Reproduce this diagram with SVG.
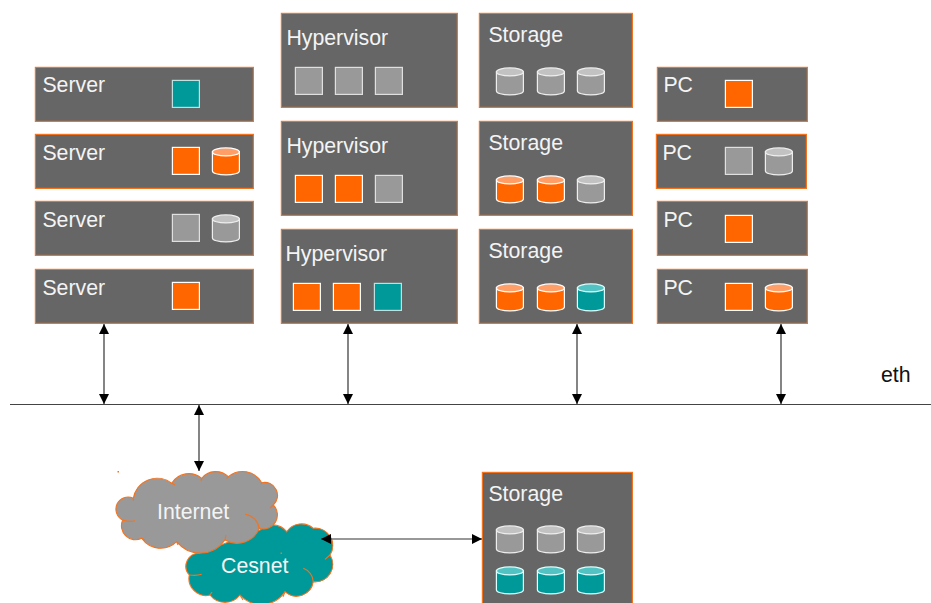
<svg xmlns="http://www.w3.org/2000/svg" width="931" height="603" viewBox="0 0 931 603">
<style>
.box{fill:#666;stroke:#f4731f;stroke-width:1.2}
text{font-family:"Liberation Sans",Arial,sans-serif;font-size:21.3px;fill:#f4f4f4}
.sq{stroke-width:1.2}
.g{fill:#999;stroke:#e0e0e0}.o{fill:#f60;stroke:#fff}.t{fill:#099;stroke:#bfe0e0}
.cg{stroke-width:1.2;fill:#999;stroke:#eee}.co{stroke-width:1.2;fill:#f60;stroke:#fff}.ct{stroke-width:1.2;fill:#099;stroke:#dff}
.tg{fill:#c2c2c2}.to{fill:#ff9e66}.tt{fill:#52c2c2}
.cn{stroke:#333;stroke-width:1.2;fill:none;marker-start:url(#a);marker-end:url(#a)}
.cloud{stroke:#f4731f;stroke-width:1.1}
.in{fill:none;stroke:#f4731f;stroke-width:1.1}
</style>
<defs>
<marker id="a" viewBox="0 0 10 10" refX="10" refY="5" markerWidth="10" markerHeight="10" markerUnits="userSpaceOnUse" orient="auto-start-reverse"><path d="M0 0L10 5L0 10Z" fill="#000"/></marker>
<g id="cylg"><path class="cg" d="M0 4.500V23.500A13.500 4 0 0 0 27 23.500V4.500Z"/><ellipse class="cg tg" cx="13.500" cy="4.500" rx="13.500" ry="4"/></g>
<g id="cylo"><path class="co" d="M0 4.500V23.500A13.500 4 0 0 0 27 23.500V4.500Z"/><ellipse class="co to" cx="13.500" cy="4.500" rx="13.500" ry="4"/></g>
<g id="cylt"><path class="ct" d="M0 4.500V23.500A13.500 4 0 0 0 27 23.500V4.500Z"/><ellipse class="ct tt" cx="13.500" cy="4.500" rx="13.500" ry="4"/></g>
<rect id="sqg" class="sq g" width="27" height="27"/>
<rect id="sqo" class="sq o" width="27" height="27"/>
<rect id="sqt" class="sq t" width="27" height="27"/>
</defs>
<rect width="931" height="603" fill="#fff"/>
<g transform="translate(.4 .4)">
<g id="server1"><rect class="box" x="35" y="67" width="218" height="54"/><text x="42" y="92">Server</text><use href="#sqt" x="172" y="80"/></g>
<g id="server2"><rect class="box" x="35" y="134" width="218" height="54"/><text x="42" y="160">Server</text><use href="#sqo" x="172" y="147"/><use href="#cylo" x="212" y="147"/></g>
<g id="server3"><rect class="box" x="35" y="201" width="218" height="54"/><text x="42" y="227">Server</text><use href="#sqg" x="172" y="214"/><use href="#cylg" x="212" y="214"/></g>
<g id="server4"><rect class="box" x="35" y="269" width="218" height="54"/><text x="42" y="295">Server</text><use href="#sqo" x="172" y="282"/></g>

<g id="hypervisor1"><rect class="box" x="281" y="13" width="176" height="94"/><text x="286" y="45">Hypervisor</text><use href="#sqg" x="295" y="67"/><use href="#sqg" x="335" y="67"/><use href="#sqg" x="375" y="67"/></g>
<g id="hypervisor2"><rect class="box" x="281" y="121" width="176" height="94"/><text x="286" y="153">Hypervisor</text><use href="#sqo" x="295" y="175"/><use href="#sqo" x="335" y="175"/><use href="#sqg" x="375" y="175"/></g>
<g id="hypervisor3"><rect class="box" x="281" y="229" width="176" height="94"/><text x="285" y="261">Hypervisor</text><use href="#sqo" x="293" y="283"/><use href="#sqo" x="333" y="283"/><use href="#sqt" x="374" y="283"/></g>

<g id="storage1"><rect class="box" x="479" y="13" width="153" height="94"/><text x="488" y="42">Storage</text><use href="#cylg" x="496" y="67"/><use href="#cylg" x="537" y="67"/><use href="#cylg" x="577" y="67"/></g>
<g id="storage2"><rect class="box" x="479" y="121" width="153" height="94"/><text x="488" y="150">Storage</text><use href="#cylo" x="496" y="175"/><use href="#cylo" x="537" y="175"/><use href="#cylg" x="577" y="175"/></g>
<g id="storage3"><rect class="box" x="479" y="229" width="153" height="94"/><text x="488" y="258">Storage</text><use href="#cylo" x="496" y="283"/><use href="#cylo" x="537" y="283"/><use href="#cylt" x="577" y="283"/></g>

<g id="pc1"><rect class="box" x="657" y="67" width="150" height="54"/><text x="663" y="92">PC</text><use href="#sqo" x="725" y="80"/></g>
<g id="pc2"><rect class="box" x="656" y="134" width="150" height="54"/><text x="662" y="160">PC</text><use href="#sqg" x="725" y="147"/><use href="#cylg" x="765" y="147"/></g>
<g id="pc3"><rect class="box" x="657" y="201" width="150" height="54"/><text x="663" y="227">PC</text><use href="#sqo" x="725" y="215"/></g>
<g id="pc4"><rect class="box" x="657" y="269" width="150" height="54"/><text x="663" y="295">PC</text><use href="#sqo" x="725" y="283"/><use href="#cylo" x="765" y="283"/></g>

<g id="storage4"><rect class="box" x="482" y="472" width="150" height="140"/><text x="488" y="501">Storage</text><use href="#cylg" x="496" y="525"/><use href="#cylg" x="537" y="525"/><use href="#cylg" x="577" y="525"/><use href="#cylt" x="496" y="566"/><use href="#cylt" x="537" y="566"/><use href="#cylt" x="577" y="566"/></g>
</g>

<g id="cesnet">
<path class="cloud" fill="#099" d="M199.300 553.300A13 13 0 0 0 189.300 575A17 17 0 0 0 210 595A19 19 0 0 0 240 595A28.500 28.500 0 0 0 285 591.700A17 17 0 0 0 313.300 581.700A17.400 17.400 0 0 0 330 555A17.400 17.400 0 0 0 313.300 528.300A18 18 0 0 0 286.700 531.700A18 18 0 0 0 260 530Z"/>
<path class="in" d="M303.300 568.300A15 15 0 0 1 313.300 581.700M330 555L325 559.300M190 575Q196 576 201.700 574.300M240 595L243 600M285 591.700L283 596.700M210 595L212 592"/>
<text x="221" y="573">Cesnet</text>
<rect x="280.500" y="552.500" width="1.500" height="1.500" fill="#f4731f"/>
</g>
<g id="internet">
<path class="cloud" fill="#999" d="M133.300 498.300A24 24 0 0 1 171.700 483.300A20 20 0 0 1 201.700 478.300A18 18 0 0 1 228.300 476.700A22 22 0 0 1 261.700 482.700A13 13 0 0 1 273.300 505A14 14 0 0 1 259.300 528.300A24 24 0 0 1 225 540A30 30 0 0 1 176.700 541.700A23 23 0 0 1 141.700 538.300A14 14 0 0 1 122.700 520A12 12 0 0 1 133.300 498.300Z"/>
<path class="in" d="M245 514.300A17 17 0 0 1 259.300 528.300M273.300 505L270 508M122.700 520Q129 522 135 520.700M133.300 498.300L133.500 501M171.700 483.300L175 485M201.700 478.300L201 481M228.300 476.700L226.700 478.500M261.700 482.700L261 484M225 540L226 535M176.700 541.700L178 545M141.700 538.300L145 540"/>
<text x="157" y="519">Internet</text>
</g>
<rect x="117.500" y="471" width="1.500" height="1.500" fill="#f4731f"/>

<g id="connectors">
<line x1="10" y1="404.500" x2="931" y2="404.500" stroke="#444" stroke-width="1.200"/>
<line class="cn" x1="104" y1="324" x2="104" y2="404"/>
<line class="cn" x1="348" y1="324" x2="348" y2="404"/>
<line class="cn" x1="577" y1="324" x2="577" y2="404"/>
<line class="cn" x1="781" y1="324" x2="781" y2="404"/>
<line class="cn" x1="199" y1="405" x2="199" y2="471"/>
<line class="cn" x1="321" y1="539" x2="482" y2="539"/>
</g>
<text x="881" y="382" style="fill:#111">eth</text>
</svg>
